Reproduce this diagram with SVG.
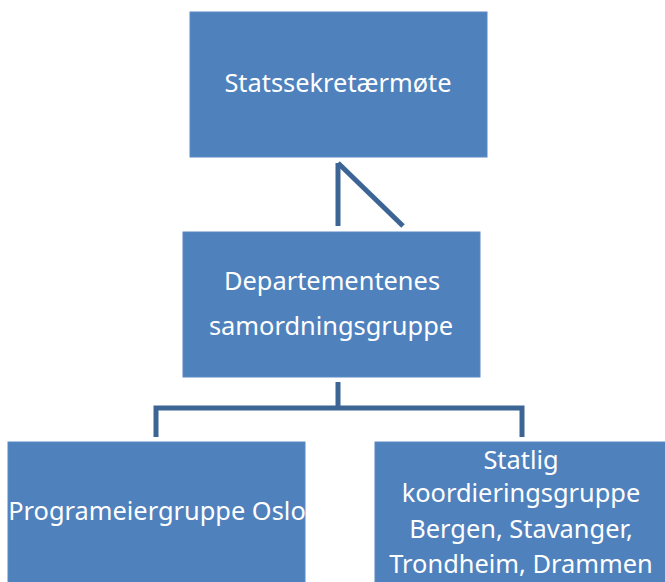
<svg xmlns="http://www.w3.org/2000/svg" width="665" height="582" viewBox="0 0 665 582">
<style>
.box{fill:#4F81BD;stroke:#5A8AC6;stroke-width:1}
.t{fill:#FFFFFF;font-family:"Noto Sans","Open Sans","DejaVu Sans",sans-serif;font-size:25.4px;text-anchor:middle}
.c{fill:none;stroke:#3C6494;stroke-width:5;stroke-linejoin:miter}
</style>
<rect width="665" height="582" fill="#FFFFFF"/>
<g id="connectors">
<path class="c" d="M338,163 V226"/>
<path class="c" d="M338,163 L403,226"/>
<path class="c" d="M338,382 V408 M156,437 V408 H522 V437"/>
</g>
<g id="statssekretaermote">
<rect class="box" x="190" y="12" width="297" height="145"/>
<text class="t" x="338" y="92">Statssekretærmøte</text>
</g>
<g id="samordningsgruppe">
<rect class="box" x="183" y="232" width="297" height="145"/>
<text class="t" x="332" y="290">Departementenes</text>
<text class="t" x="331" y="335">samordningsgruppe</text>
</g>
<g id="programeiergruppe">
<rect class="box" x="8" y="442" width="297" height="145"/>
<text class="t" x="157" y="520">Programeiergruppe Oslo</text>
</g>
<g id="koordineringsgruppe">
<rect class="box" x="375" y="442" width="297" height="145"/>
<text class="t" x="521" y="469">Statlig</text>
<text class="t" x="521" y="502">koordieringsgruppe</text>
<text class="t" x="521" y="538">Bergen, Stavanger,</text>
<text class="t" x="521" y="573">Trondheim, Drammen</text>
</g>
</svg>
